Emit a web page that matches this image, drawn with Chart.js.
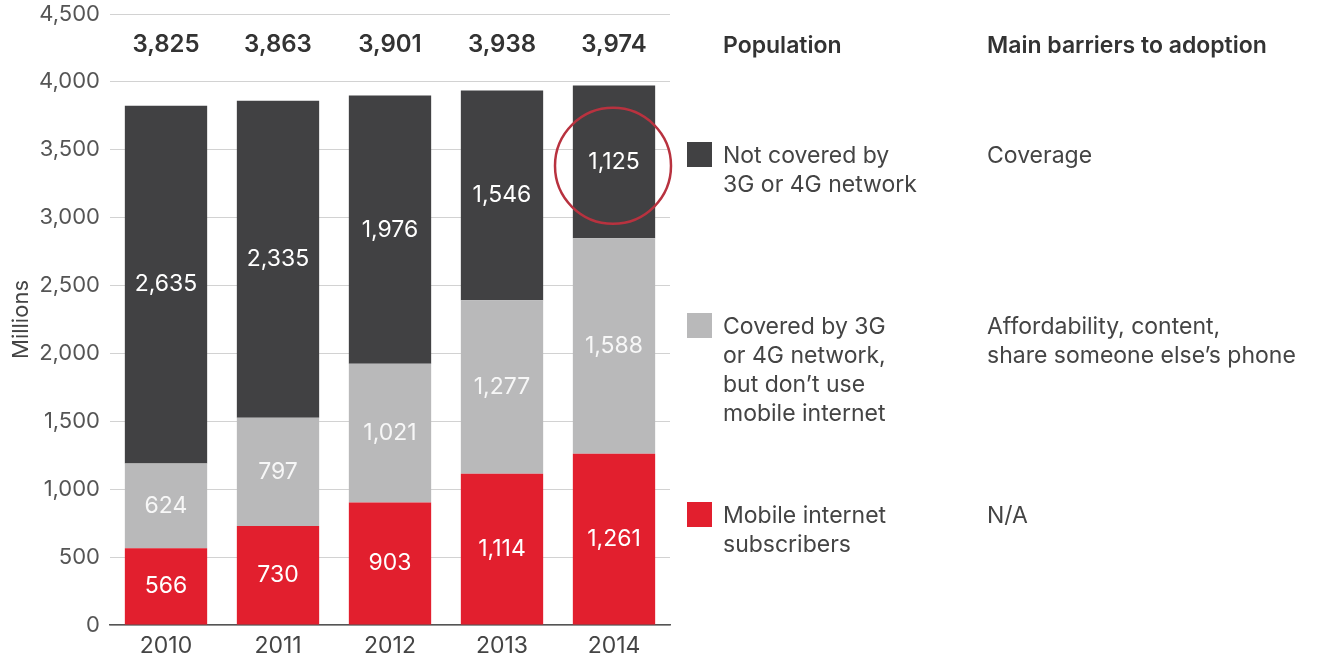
<!DOCTYPE html>
<html>
<head>
<meta charset="utf-8">
<script src="https://cdn.jsdelivr.net/npm/chart.js@4.4.0/dist/chart.umd.min.js"></script>
<style>
    html, body { margin: 0; padding: 0; background: #fff; }
    #wrap { position: relative; width: 1322px; height: 659px; }
</style>
</head>
<body>
<div id="wrap"><canvas id="chart1" width="1322" height="659"></canvas></div>
<script>
    // data (millions)
    var years = ['2010', '2011', '2012', '2013', '2014'];
    var subscribers = [566, 730, 903, 1114, 1261];
    var coveredNotUsing = [624, 797, 1021, 1277, 1588];
    var notCovered = [2635, 2335, 1976, 1546, 1125];
    // printed totals (not always the exact sum, source rounding)
    var population = [3825, 3863, 3901, 3938, 3974];
    var yTicks = [0, 500, 1000, 1500, 2000, 2500, 3000, 3500, 4000, 4500];

    var seriesNames = ['Mobile internet subscribers', 'Covered by 3G or 4G network, but don\'t use mobile internet', 'Not covered by 3G or 4G network'];
    var seriesColors = ['#e21f2e', '#b9b9ba', '#414143'];
    // legend is listed top to bottom (reverse of the stack)
    var legendLines = [
        ['Not covered by', '3G or 4G network'],
        ['Covered by 3G', 'or 4G network,', 'but don\u2019t use', 'mobile internet'],
        ['Mobile internet', 'subscribers']
    ];
    var barrierLines = [
        ['Coverage'],
        ['Affordability, content,', 'share someone else\u2019s phone'],
        ['N/A']
    ];

    var FONT = 'Inter, "Open Sans", sans-serif';

    function fmt(v) {
        return v.toLocaleString('en-US');
    }

    var labelsPlugin = {
        id: 'labelsPlugin',
        afterDatasetsDraw: function (chart) {
            var ctx = chart.ctx;
            ctx.save();
            ctx.textAlign = 'center';
            ctx.textBaseline = 'middle';

            // values inside each segment
            chart.data.datasets.forEach(function (ds, di) {
                var meta = chart.getDatasetMeta(di);
                meta.data.forEach(function (bar, i) {
                    ctx.font = '23px ' + FONT;
                    ctx.fillStyle = di === 1 ? '#f7f7f7' : '#ffffff';
                    ctx.fillText(fmt(ds.data[i]), bar.x, (bar.y + bar.base) / 2);
                });
            });

            // totals above the bars
            var top = chart.getDatasetMeta(0).data;
            ctx.font = '600 24px ' + FONT;
            ctx.fillStyle = '#333333';
            population.forEach(function (p, i) {
                ctx.fillText(fmt(p), top[i].x, 45);
            });

            // red circle around the 2014 "not covered" segment
            var el = chart.getDatasetMeta(2).data[4];
            ctx.beginPath();
            ctx.strokeStyle = '#b8323f';
            ctx.lineWidth = 2.5;
            ctx.arc(el.x - 1, (el.y + el.base) / 2 + 4, 58, 0, Math.PI * 2);
            ctx.stroke();

            // right-hand legend and barrier notes
            ctx.textAlign = 'left';
            ctx.font = '600 23px ' + FONT;
            ctx.fillStyle = '#333333';
            ctx.fillText('Population', 723, 46);
            ctx.fillText('Main barriers to adoption', 987, 46);

            var rowTop = [142, 313, 502];
            var lineH = 29;
            ctx.font = '23px ' + FONT;
            legendLines.forEach(function (lines, r) {
                ctx.fillStyle = seriesColors[2 - r];
                ctx.fillRect(687, rowTop[r], 25, 25);
                ctx.fillStyle = '#444444';
                lines.forEach(function (t, k) {
                    ctx.fillText(t, 723, rowTop[r] + 14 + k * lineH);
                });
                barrierLines[r].forEach(function (t, k) {
                    ctx.fillText(t, 987, rowTop[r] + 14 + k * lineH);
                });
            });
            ctx.restore();
        }
    };

    var ctx1 = document.getElementById('chart1').getContext('2d');
    var myBarChart = new Chart(ctx1, {
        type: 'bar',
        data: {
            labels: years,
            datasets: [
                { label: seriesNames[0], data: subscribers, backgroundColor: seriesColors[0] },
                { label: seriesNames[1], data: coveredNotUsing, backgroundColor: seriesColors[1] },
                { label: seriesNames[2], data: notCovered, backgroundColor: seriesColors[2] }
            ]
        },
        options: {
            responsive: false,
            animation: false,
            layout: { padding: { top: 0, right: 652, left: 0, bottom: 0 } },
            plugins: {
                legend: { display: false },
                tooltip: { enabled: false }
            },
            datasets: {
                bar: { categoryPercentage: 1, barPercentage: 0.735, borderWidth: 0 }
            },
            scales: {
                x: {
                    stacked: true,
                    grid: { display: false, drawTicks: false },
                    border: { display: true, color: '#555555', width: 1.5 },
                    ticks: { color: '#444444', font: { family: FONT, size: 23 }, padding: 7 },
                    afterFit: function (scale) { scale.height = 34; }
                },
                y: {
                    stacked: true,
                    min: 0,
                    max: 4500,
                    afterBuildTicks: function (scale) {
                        scale.ticks = yTicks.map(function (v) { return { value: v }; });
                    },
                    grid: { color: '#d2d2d2', lineWidth: 1, drawTicks: false },
                    border: { display: false },
                    ticks: {
                        color: '#555555',
                        padding: 10,
                        font: { family: FONT, size: 22, lineHeight: 1 },
                        callback: function (v) { return fmt(v); }
                    },
                    title: {
                        display: true,
                        text: 'Millions',
                        color: '#444444',
                        font: { family: FONT, size: 22 },
                        padding: { top: 8, bottom: 0 }
                    },
                    afterFit: function (scale) {
                        scale.width = 110;
                        scale.paddingTop = 14;
                    }
                }
            }
        },
        plugins: [labelsPlugin]
    });
</script>
</body>
</html>
